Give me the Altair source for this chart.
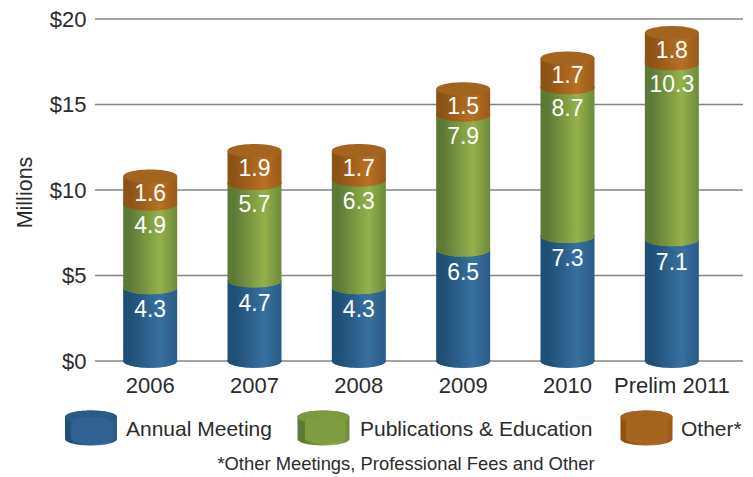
import altair as alt
import pandas as pd

years = ["2006", "2007", "2008", "2009", "2010", "Prelim 2011"]
annual = [4.3, 4.7, 4.3, 6.5, 7.3, 7.1]
pubs = [4.9, 5.7, 6.3, 7.9, 8.7, 10.3]
other = [1.6, 1.9, 1.7, 1.5, 1.7, 1.8]
series_names = ["Annual Meeting", "Publications & Education", "Other*"]
y_ticks = [0, 5, 10, 15, 20]
mid_colors = ["#2f6193", "#7f9c40", "#a5651f"]
FONT = "Liberation Sans"
INK = "#2b2b2b"


def grad(a, b, c):
    return {"gradient": "linear", "x1": 0, "x2": 1, "y1": 0, "y2": 0,
            "stops": [{"offset": 0, "color": a}, {"offset": 0.12, "color": a},
                      {"offset": 0.68, "color": b}, {"offset": 1, "color": c}]}


grads = [grad("#1f4e76", "#37709f", "#2a5a88"),
         grad("#5c7a35", "#94b14b", "#6c8a3c"),
         grad("#8c5316", "#b87024", "#98591a")]
cap_color = "#a3641f"
ELL = "M-1 0A1 .25 0 1 1 1 0A1 .25 0 1 1 -1 0Z"
CYL = "M-1 -.42A1 .25 0 0 1 1 -.42L1 .42A1 .25 0 0 1 -1 .42Z"
BW = 54
yscale = alt.Scale(domain=[0, 20], nice=False)
yaxis = alt.Axis(title="Millions", values=y_ticks, labelExpr="'$' + datum.value", grid=False,
                 domain=False, ticks=False, labelPadding=11,
                 labelFont=FONT, labelFontSize=22, labelColor=INK,
                 titleFont=FONT, titleFontSize=21.5, titleFontWeight="normal", titleColor=INK,
                 titleX=-61, titleY=173)

x = alt.X("year:N", sort=years, scale=alt.Scale(domain=years, range=[1, 627]),
          axis=alt.Axis(title=None, labelAngle=0, domain=False, ticks=False, labelPadding=14, grid=False,
                        labelFont=FONT, labelFontSize=22, labelColor=INK))
y = alt.Y("base:Q", scale=yscale, axis=yaxis)

frames = []
base = [0.0] * len(years)
for name, vals in zip(series_names, [annual, pubs, other]):
    top = [b + v for b, v in zip(base, vals)]
    frames.append(pd.DataFrame({"year": years, "series": name, "value": vals, "base": base, "top": top}))
    base = top

layers = [alt.Chart(pd.DataFrame({"tick": y_ticks})).mark_rule(color="#858585", strokeWidth=1.3)
          .encode(x=alt.value(-2), x2=alt.value(646), y=alt.Y("tick:Q", scale=yscale, axis=yaxis))]
text_dy = [23, 22, 18]
for i, d in enumerate(frames):
    layers.append(alt.Chart(d).mark_bar(size=BW, orient="vertical", fill=grads[i], strokeWidth=0)
                  .encode(x=x, y=y, y2="top:Q"))
    layers.append(alt.Chart(d).mark_point(filled=True, shape=ELL, size=BW ** 2, opacity=1, strokeWidth=0)
                  .encode(x=x, y=y,
                          color=alt.Color("series:N", sort=series_names,
                                          scale=alt.Scale(domain=series_names, range=mid_colors),
                                          legend=alt.Legend(title=None, orient="none", legendX=-26, legendY=391,
                                                            direction="horizontal", columns=3,
                                                            symbolType=CYL, symbolSize=1600, symbolStrokeWidth=0,
                                                            symbolOpacity=1, labelFont=FONT, labelFontSize=21,
                                                            labelColor=INK, labelOffset=15,
                                                            columnPadding=33, labelLimit=300))))
    layers.append(alt.Chart(d).mark_point(filled=True, shape=ELL, size=BW ** 2, opacity=1, strokeWidth=0, fill=grads[i])
                  .encode(x=x, y=y))

layers.append(alt.Chart(frames[2]).mark_point(filled=True, shape=ELL, size=BW ** 2, opacity=1, strokeWidth=0,
                                              fill=cap_color)
              .encode(x=x, y=alt.Y("top:Q", scale=yscale, axis=yaxis)))

for i, d in enumerate(frames):
    layers.append(alt.Chart(d).mark_text(font=FONT, fontSize=23, color="white", dy=text_dy[i])
                  .encode(x=x, y=alt.Y("top:Q", scale=yscale, axis=yaxis),
                          text=alt.Text("value:Q", format=".1f")))

swatch_x = [-6, 226.5, 549.5]
swatch_y = 409
for i, name in enumerate(series_names):
    d = pd.DataFrame({"series": [name]})
    layers.append(alt.Chart(d).mark_point(filled=True, shape=CYL, size=2704, opacity=1, strokeWidth=0, fill=grads[i])
                  .encode(x=alt.value(swatch_x[i]), y=alt.value(swatch_y)))
    layers.append(alt.Chart(d).mark_point(filled=True, shape=ELL, size=2704, opacity=1, strokeWidth=0,
                                          fill=["#2a5a86", "#7b9a3f", cap_color][i])
                  .encode(x=alt.value(swatch_x[i]), y=alt.value(swatch_y - 11)))

note = ["*Other Meetings, Professional Fees and Other"]
layers.append(alt.Chart(pd.DataFrame({"note": note})).mark_text(font=FONT, fontSize=18.4, color=INK, align="center")
              .encode(x=alt.value(309), y=alt.value(445), text="note:N"))

chart = (alt.layer(*layers)
         .resolve_scale(y="shared", x="shared", color="shared")
         .properties(width=646, height=342,
                     padding={"left": 89, "top": 11, "right": 2, "bottom": 114},
                     autosize=alt.AutoSizeParams(type="none"))
         .configure_view(stroke=None))

chart.save("out.html", embed_options={"renderer": "svg", "actions": False})
